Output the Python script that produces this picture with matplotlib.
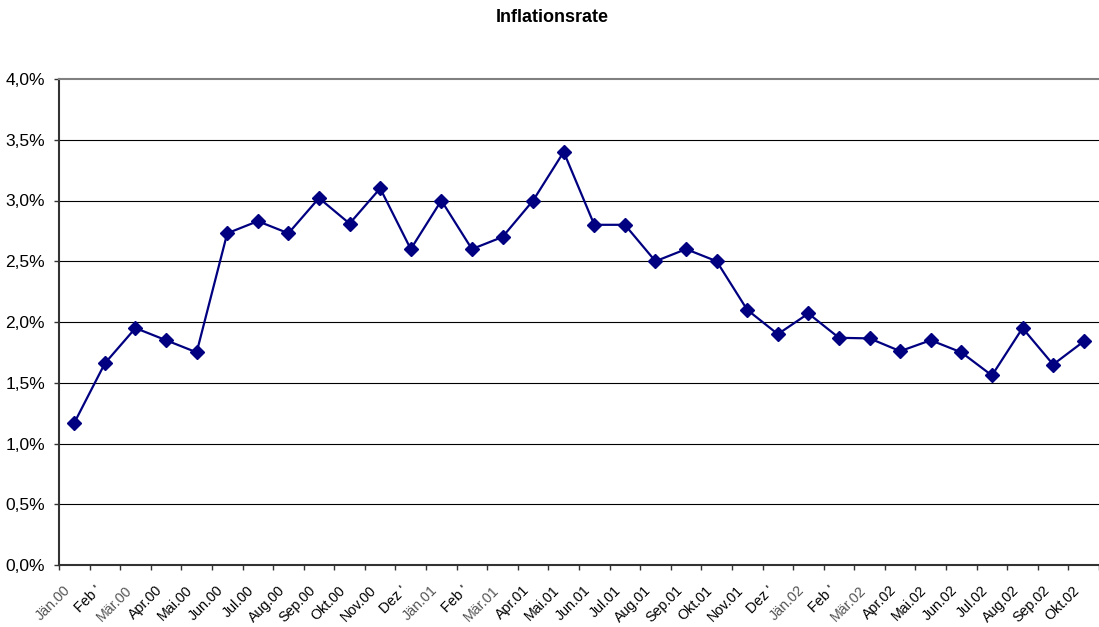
import matplotlib
matplotlib.use("Agg")
import matplotlib.pyplot as plt
from matplotlib.ticker import FuncFormatter, FixedLocator
from matplotlib.transforms import ScaledTranslation

labels = ["Jän.00", "Feb '", "Mär.00", "Apr.00", "Mai.00", "Jun.00", "Jul.00", "Aug.00",
          "Sep.00", "Okt.00", "Nov.00", "Dez '", "Jän.01", "Feb '", "Mär.01", "Apr.01",
          "Mai.01", "Jun.01", "Jul.01", "Aug.01", "Sep.01", "Okt.01", "Nov.01", "Dez '",
          "Jän.02", "Feb '", "Mär.02", "Apr.02", "Mai.02", "Jun.02", "Jul.02", "Aug.02",
          "Sep.02", "Okt.02"]
rate = [1.17, 1.66, 1.95, 1.85, 1.75, 2.73, 2.83, 2.73, 3.02, 2.81, 3.10, 2.60,
        3.00, 2.60, 2.70, 3.00, 3.40, 2.80, 2.80, 2.50, 2.60, 2.50, 2.10, 1.90,
        2.07, 1.87, 1.865, 1.76, 1.85, 1.75, 1.56, 1.95, 1.65, 1.84]
yticks = [0.0, 0.5, 1.0, 1.5, 2.0, 2.5, 3.0, 3.5, 4.0]

plt.rcParams['font.family'] = ['Liberation Sans', 'DejaVu Sans']

W, H = 1099, 627
fig = plt.figure(figsize=(W / 100, H / 100), dpi=100)
ax = fig.add_axes([59 / W, 1 - 565 / H, (1099 - 59) / W, (565 - 79) / H])

x = list(range(len(rate)))
ax.plot(x, rate, color='#000080', lw=1.6, marker='D', ms=6.8, mfc='#000080',
        mec='#000080', zorder=3, clip_on=False)

ax.set_xlim(-0.5, len(rate) - 0.5)
ax.set_ylim(0, 4.0)
ax.set_yticks(yticks)
ax.yaxis.set_major_formatter(FuncFormatter(lambda v, p: f"{v:.1f}%".replace('.', ',')))
for yv in yticks[1:-1]:
    ax.axhline(yv, color='black', lw=0.8, zorder=1)

# category boundaries as tick marks, labels at category centres
ax.xaxis.set_major_locator(FixedLocator([k - 0.5 for k in range(len(rate) + 1)]))
ax.xaxis.set_major_formatter(FuncFormatter(lambda v, p: ""))
ax.set_xticks(x, minor=True)
ax.set_xticklabels(labels, minor=True)
ax.tick_params(axis='x', which='minor', length=0, pad=6, labelsize=10.3)
ax.tick_params(axis='x', which='major', length=3.5, width=1, color='#333333')
ax.tick_params(axis='y', length=3.5, width=1, color='#333333', labelsize=12.5, pad=6.5)
shift = ScaledTranslation(-11 / 100, -10 / 100, fig.dpi_scale_trans)
for lab in ax.get_xticklabels(minor=True):
    lab.set_rotation(45)
    lab.set_rotation_mode('anchor')
    lab.set_ha('right')
    lab.set_va('top')
    lab.set_transform(lab.get_transform() + shift)
    if lab.get_text().startswith(('Jän', 'Mär')):
        lab.set_color('#555555')

ax.spines['left'].set_color('#333333')
ax.spines['left'].set_linewidth(1.5)
ax.spines['bottom'].set_color('#333333')
ax.spines['bottom'].set_linewidth(1.5)
ax.spines['top'].set_color('#808080')
ax.spines['top'].set_linewidth(1.5)
ax.spines['right'].set_visible(False)

fig.text(552 / W, 1 - 18 / H, "Inflationsrate", ha='center', va='center',
         fontsize=13, fontweight='bold')

fig.savefig("out.png", dpi=100)
